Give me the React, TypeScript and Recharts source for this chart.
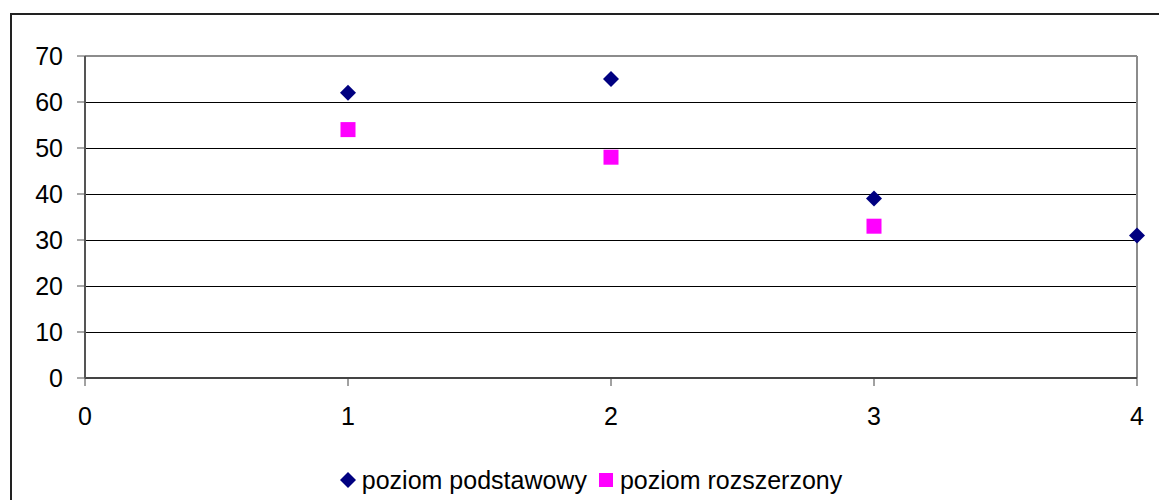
import { ScatterChart, Scatter, XAxis, YAxis, CartesianGrid, Legend, ReferenceLine } from 'recharts';

const xValues = [1, 2, 3, 4];
const podstawowy = [62, 65, 39, 31];
const rozszerzony = [54, 48, 33];
const xTicks = [0, 1, 2, 3, 4];
const yTicks = [0, 10, 20, 30, 40, 50, 60, 70];

const NAVY = '#000080';
const MAGENTA = '#FF00FF';
const FONT = 'Arial, "Liberation Sans", sans-serif';

const dataPodst = podstawowy.map((v, i) => ({ x: xValues[i], y: v }));
const dataRozsz = rozszerzony.map((v, i) => ({ x: xValues[i], y: v }));

const Diamond = (props: any) => {
  const { cx, cy } = props;
  const r = 8;
  return <polygon points={`${cx},${cy - r} ${cx + r},${cy} ${cx},${cy + r} ${cx - r},${cy}`} fill={NAVY} />;
};

const Square = (props: any) => {
  const { cx, cy } = props;
  const s = 15;
  return <rect x={cx - s / 2} y={cy - s / 2} width={s} height={s} fill={MAGENTA} />;
};

const LegendContent = () => (
  <div
    style={{
      display: 'flex',
      justifyContent: 'center',
      alignItems: 'center',
      height: 30,
      paddingLeft: 45,
      fontFamily: FONT,
      fontSize: 25,
      color: '#000',
    }}
  >
    <svg width={16} height={16} style={{ marginRight: 6 }}>
      <polygon points="8,0 16,8 8,16 0,8" fill={NAVY} />
    </svg>
    <span style={{ marginRight: 12 }}>poziom podstawowy</span>
    <svg width={14} height={14} style={{ marginRight: 7 }}>
      <rect x={0} y={0} width={14} height={14} fill={MAGENTA} />
    </svg>
    <span>poziom rozszerzony</span>
  </div>
);

export default function App() {
  return (
    <div style={{ position: 'absolute', left: 0, top: 0, width: 1159, height: 500, overflow: 'hidden', background: '#fff' }}>
      <div
        style={{
          position: 'absolute',
          left: 10,
          top: 13,
          width: 1300,
          height: 700,
          borderLeft: '2px solid #222',
          borderTop: '2px solid #222',
        }}
      />
      <ScatterChart width={1159} height={500} margin={{ top: 56, right: 22, left: 0, bottom: 5 }}>
        <CartesianGrid horizontal={true} vertical={false} stroke="#000" shapeRendering="crispEdges" />
        <XAxis
          type="number"
          dataKey="x"
          domain={[0, 4]}
          ticks={xTicks}
          height={87}
          tickSize={8}
          tickMargin={21}
          axisLine={{ stroke: '#444', strokeWidth: 2 }}
          tickLine={{ stroke: '#444' }}
          tick={{ fill: '#000', fontSize: 25, fontFamily: FONT }}
        />
        <YAxis
          type="number"
          dataKey="y"
          domain={[0, 70]}
          ticks={yTicks}
          width={85}
          tickSize={8}
          tickMargin={14}
          axisLine={{ stroke: '#555', strokeWidth: 2 }}
          tickLine={{ stroke: '#555' }}
          tick={{ fill: '#000', fontSize: 25, fontFamily: FONT }}
        />
        <ReferenceLine y={70} stroke="#8c8c8c" strokeWidth={2} />
        <ReferenceLine x={4} stroke="#8c8c8c" strokeWidth={2} />
        <Legend verticalAlign="bottom" height={30} content={<LegendContent />} />
        <Scatter name="poziom podstawowy" data={dataPodst} shape={<Diamond />} isAnimationActive={false} />
        <Scatter name="poziom rozszerzony" data={dataRozsz} shape={<Square />} isAnimationActive={false} />
      </ScatterChart>
    </div>
  );
}
